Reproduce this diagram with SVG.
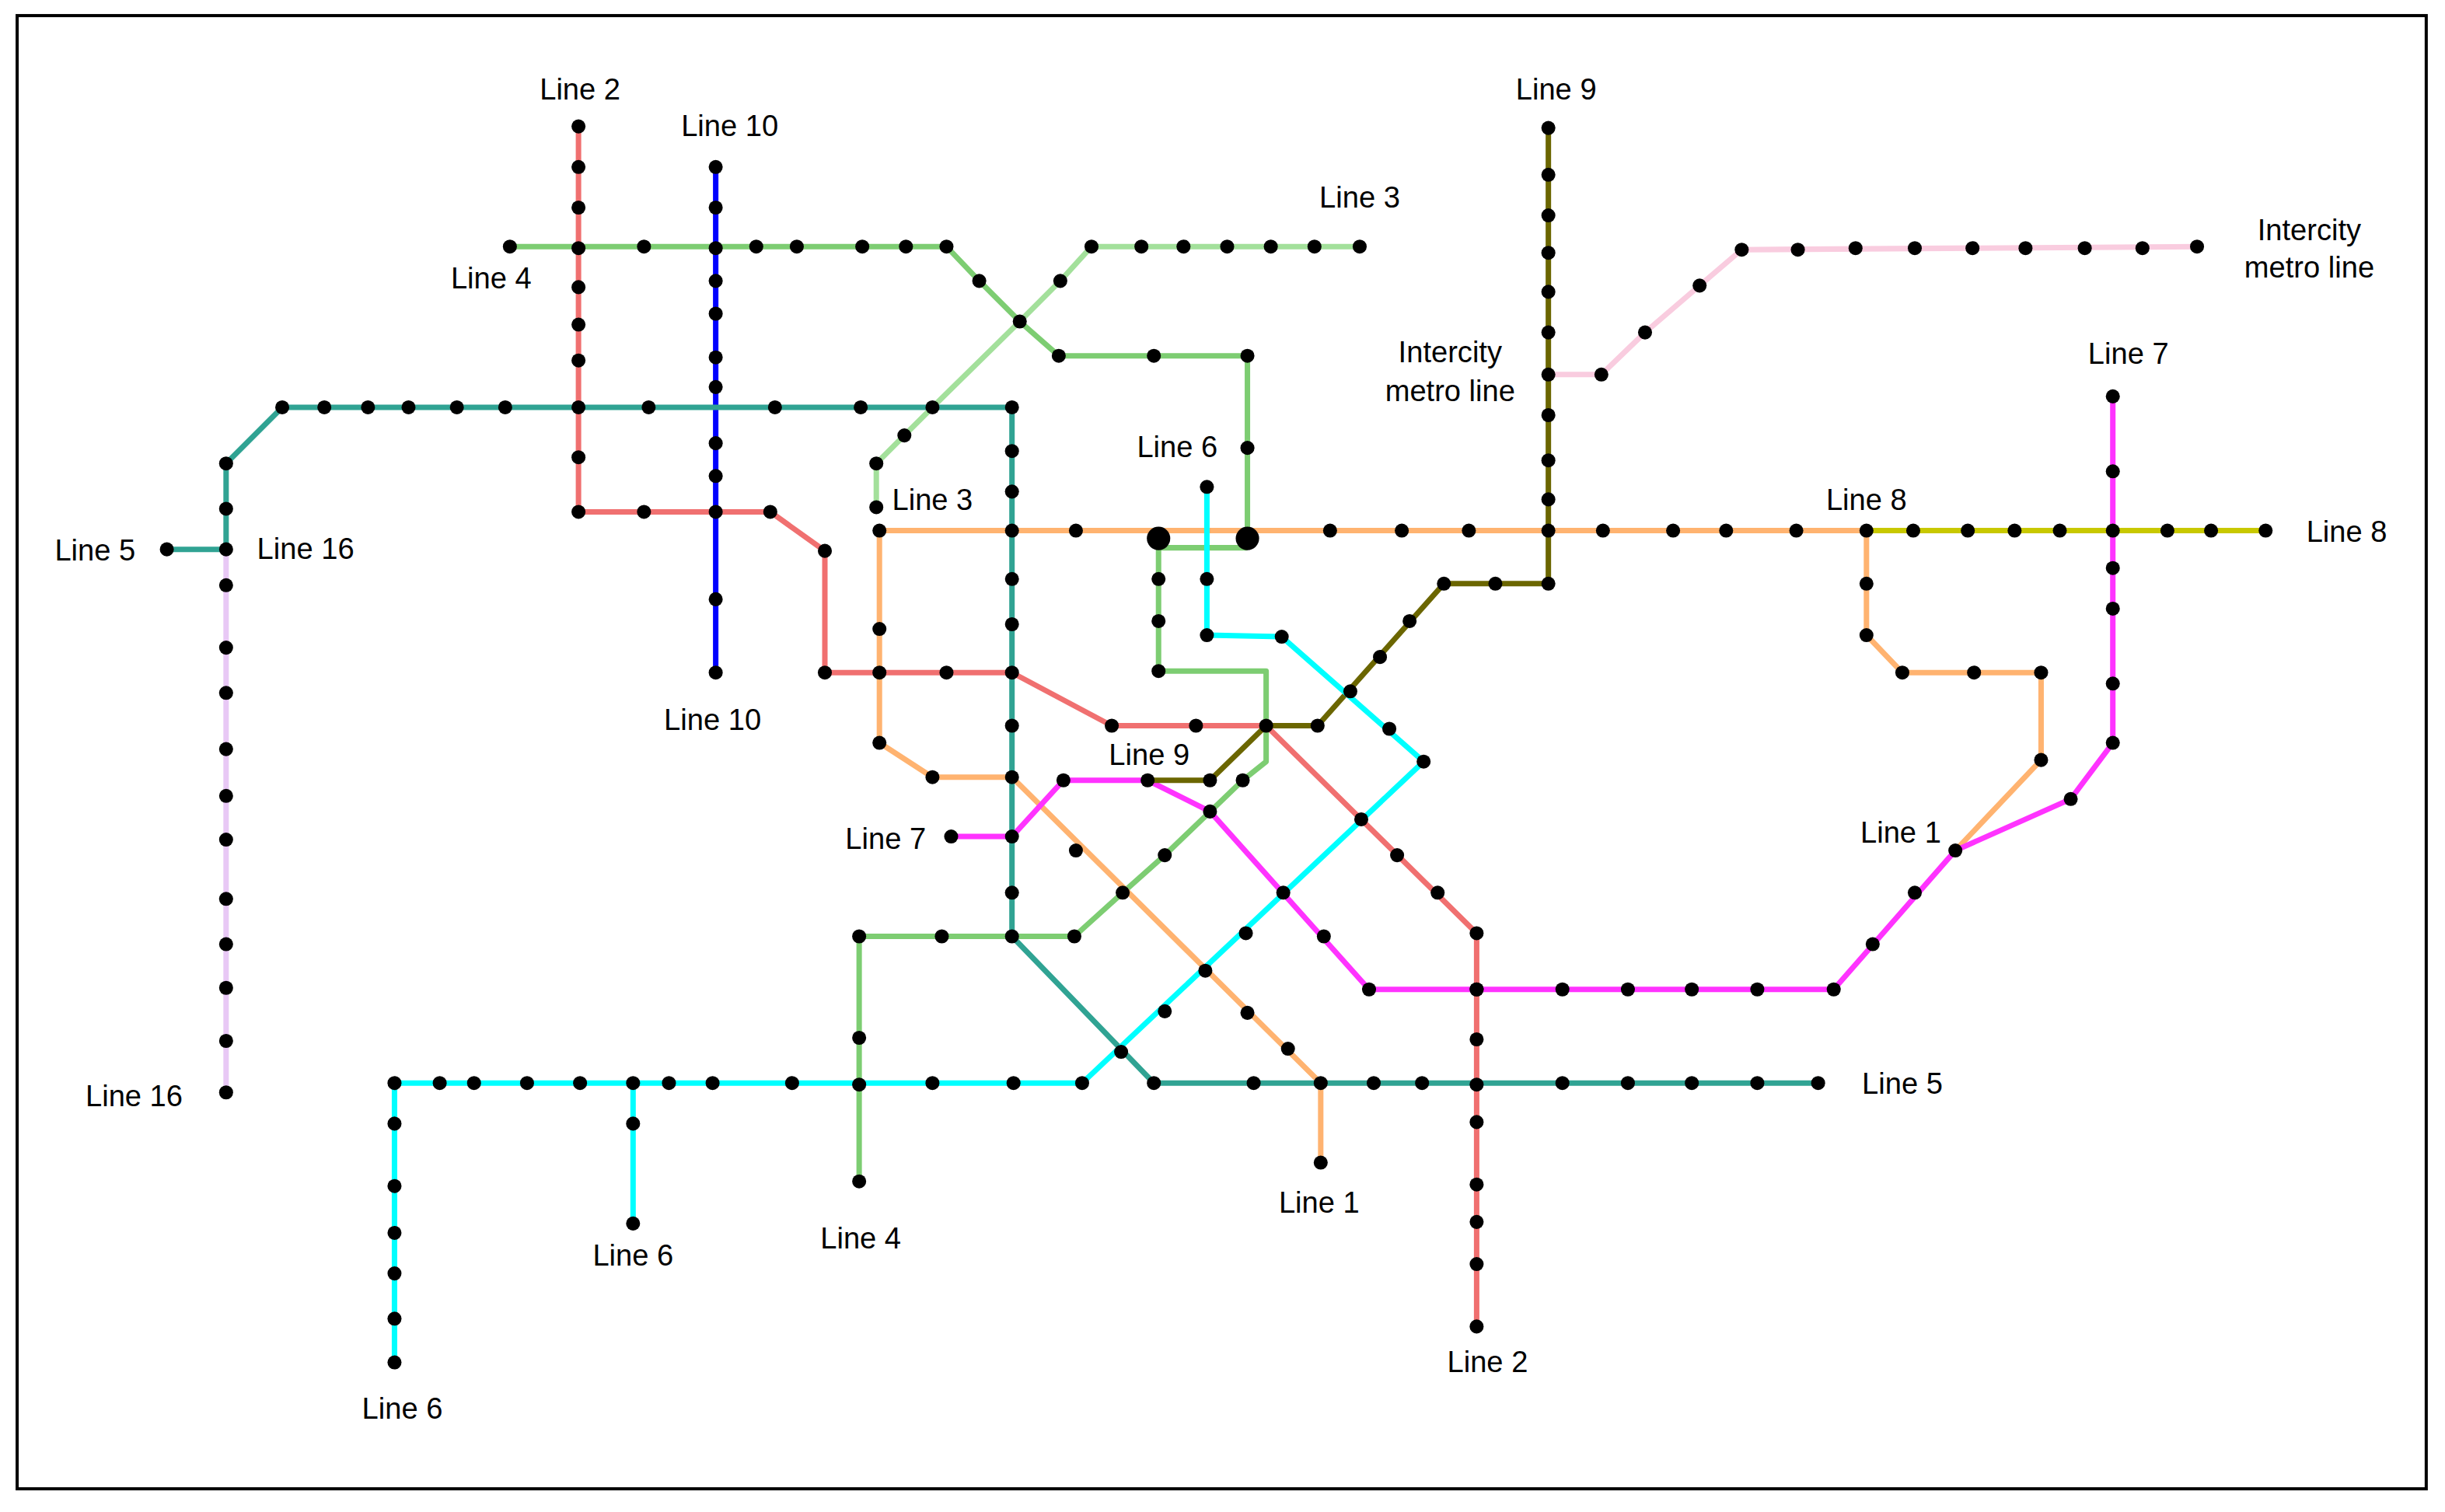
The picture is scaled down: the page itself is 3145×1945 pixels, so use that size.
<svg xmlns="http://www.w3.org/2000/svg" width="3145" height="1945" viewBox="0 0 3145 1945">
<style>
.l{fill:none;stroke-width:3.5;stroke-linejoin:round}
.t{font-family:"Liberation Sans",Arial,sans-serif;font-size:19px;fill:#000;text-anchor:middle}
circle{fill:#000}
</style>
<rect width="3145" height="1945" fill="#fff"/>
<g transform="scale(2.0057,2.0075)">
<rect x="11" y="10" width="1545" height="944" fill="none" stroke="#000" stroke-width="2"/>
<g id="connectors">
<polyline class="l" stroke="#f9ccdf" points="993,240 1027,240 1055,213 1090,183 1117,160 1409,158"/>
<polyline class="l" stroke="#e8c8f5" points="145,352 145,700"/>
<polyline class="l" stroke="#a3e09b" points="872,158 700,158 680,180 654,206 598,261 580,279 562,297 562,325"/>
<polyline class="l" stroke="#7dcd72" points="327,158 607,158 628,180 654,206 679,228 800,228 800,345"/>
<polyline class="l" stroke="#7dcd72" points="800,351 743,351 743,430 812,430 812,488 797,500 747,548 720,572 689,600 551,600 551,757"/>
<polyline class="l" stroke="#ffb370" points="564,340 1197,340"/>
<polyline class="l" stroke="#ffb370" points="564,340 564,476 598,498 649,498 847,694 847,745"/>
<polyline class="l" stroke="#ffb370" points="1197,340 1197,407 1220,431 1309,431 1309,487 1254,545"/>
<polyline class="l" stroke="#c8c800" points="1197,340 1453,340"/>
<polyline class="l" stroke="#f07070" points="371,81 371,328 494,328 529,353 529,431 649,431 713,465 812,465 947,598 947,850"/>
<polyline class="l" stroke="#0000ff" points="459,107 459,431"/>
<polyline class="l" stroke="#30a393" points="107,352 145,352 145,297 181,261 649,261 649,600 740,694 1166,694"/>
<polyline class="l" stroke="#ff33ff" points="1355,254 1355,476 1328,512 1254,545 1176,634 878,634 776,520 736,500 682,500 649,536 610,536"/>
<polyline class="l" stroke="#6b6600" points="993,82 993,374 926,374 845,465 812,465 776,500 736,500"/>
<polyline class="l" stroke="#00ffff" points="774,312 774,407 822,408 913,488 694,694 253,694 253,873"/>
<polyline class="l" stroke="#00ffff" points="406,694 406,784"/>
</g>
<g id="stations">
<circle cx="743" cy="345" r="7.5"/><circle cx="800" cy="345" r="7.5"/>
<g id="l2"><circle cx="371" cy="81" r="4.5"/><circle cx="371" cy="107" r="4.5"/><circle cx="371" cy="133" r="4.5"/><circle cx="371" cy="159" r="4.5"/><circle cx="371" cy="184" r="4.5"/><circle cx="371" cy="208" r="4.5"/><circle cx="371" cy="231" r="4.5"/><circle cx="371" cy="261" r="4.5"/><circle cx="371" cy="293" r="4.5"/><circle cx="371" cy="328" r="4.5"/><circle cx="413" cy="328" r="4.5"/><circle cx="459" cy="328" r="4.5"/><circle cx="494" cy="328" r="4.5"/><circle cx="529" cy="353" r="4.5"/><circle cx="529" cy="431" r="4.5"/><circle cx="564" cy="431" r="4.5"/><circle cx="607" cy="431" r="4.5"/><circle cx="649" cy="431" r="4.5"/><circle cx="713" cy="465" r="4.5"/><circle cx="767" cy="465" r="4.5"/><circle cx="812" cy="465" r="4.5"/><circle cx="873" cy="525" r="4.5"/><circle cx="896" cy="548" r="4.5"/><circle cx="922" cy="572" r="4.5"/><circle cx="947" cy="598" r="4.5"/><circle cx="947" cy="634" r="4.5"/><circle cx="947" cy="666" r="4.5"/><circle cx="947" cy="695" r="4.5"/><circle cx="947" cy="719" r="4.5"/><circle cx="947" cy="759" r="4.5"/><circle cx="947" cy="783" r="4.5"/><circle cx="947" cy="810" r="4.5"/><circle cx="947" cy="850" r="4.5"/></g>
<g id="l10"><circle cx="459" cy="107" r="4.5"/><circle cx="459" cy="133" r="4.5"/><circle cx="459" cy="159" r="4.5"/><circle cx="459" cy="180" r="4.5"/><circle cx="459" cy="201" r="4.5"/><circle cx="459" cy="229" r="4.5"/><circle cx="459" cy="248" r="4.5"/><circle cx="459" cy="284" r="4.5"/><circle cx="459" cy="305" r="4.5"/><circle cx="459" cy="384" r="4.5"/><circle cx="459" cy="431" r="4.5"/></g>
<g id="l4"><circle cx="327" cy="158" r="4.5"/><circle cx="413" cy="158" r="4.5"/><circle cx="485" cy="158" r="4.5"/><circle cx="511" cy="158" r="4.5"/><circle cx="553" cy="158" r="4.5"/><circle cx="581" cy="158" r="4.5"/><circle cx="607" cy="158" r="4.5"/><circle cx="628" cy="180" r="4.5"/><circle cx="654" cy="206" r="4.5"/><circle cx="679" cy="228" r="4.5"/><circle cx="740" cy="228" r="4.5"/><circle cx="800" cy="228" r="4.5"/><circle cx="800" cy="287" r="4.5"/><circle cx="743" cy="371" r="4.5"/><circle cx="743" cy="398" r="4.5"/><circle cx="743" cy="430" r="4.5"/><circle cx="797" cy="500" r="4.5"/><circle cx="747" cy="548" r="4.5"/><circle cx="720" cy="572" r="4.5"/><circle cx="689" cy="600" r="4.5"/><circle cx="649" cy="600" r="4.5"/><circle cx="604" cy="600" r="4.5"/><circle cx="551" cy="600" r="4.5"/><circle cx="551" cy="665" r="4.5"/><circle cx="551" cy="695" r="4.5"/><circle cx="551" cy="757" r="4.5"/></g>
<g id="l3"><circle cx="872" cy="158" r="4.5"/><circle cx="843" cy="158" r="4.5"/><circle cx="815" cy="158" r="4.5"/><circle cx="787" cy="158" r="4.5"/><circle cx="759" cy="158" r="4.5"/><circle cx="732" cy="158" r="4.5"/><circle cx="700" cy="158" r="4.5"/><circle cx="680" cy="180" r="4.5"/><circle cx="598" cy="261" r="4.5"/><circle cx="580" cy="279" r="4.5"/><circle cx="562" cy="297" r="4.5"/><circle cx="562" cy="325" r="4.5"/></g>
<g id="l16"><circle cx="181" cy="261" r="4.5"/><circle cx="208" cy="261" r="4.5"/><circle cx="236" cy="261" r="4.5"/><circle cx="262" cy="261" r="4.5"/><circle cx="293" cy="261" r="4.5"/><circle cx="324" cy="261" r="4.5"/><circle cx="416" cy="261" r="4.5"/><circle cx="497" cy="261" r="4.5"/><circle cx="552" cy="261" r="4.5"/><circle cx="649" cy="261" r="4.5"/><circle cx="145" cy="297" r="4.5"/><circle cx="145" cy="326" r="4.5"/><circle cx="145" cy="352" r="4.5"/><circle cx="107" cy="352" r="4.5"/><circle cx="145" cy="375" r="4.5"/><circle cx="145" cy="415" r="4.5"/><circle cx="145" cy="444" r="4.5"/><circle cx="145" cy="480" r="4.5"/><circle cx="145" cy="510" r="4.5"/><circle cx="145" cy="538" r="4.5"/><circle cx="145" cy="576" r="4.5"/><circle cx="145" cy="605" r="4.5"/><circle cx="145" cy="633" r="4.5"/><circle cx="145" cy="667" r="4.5"/><circle cx="145" cy="700" r="4.5"/></g>
<g id="l5"><circle cx="649" cy="289" r="4.5"/><circle cx="649" cy="315" r="4.5"/><circle cx="649" cy="340" r="4.5"/><circle cx="649" cy="371" r="4.5"/><circle cx="649" cy="400" r="4.5"/><circle cx="649" cy="465" r="4.5"/><circle cx="649" cy="498" r="4.5"/><circle cx="649" cy="536" r="4.5"/><circle cx="649" cy="572" r="4.5"/><circle cx="719" cy="674" r="4.5"/><circle cx="740" cy="694" r="4.5"/><circle cx="804" cy="694" r="4.5"/><circle cx="847" cy="694" r="4.5"/><circle cx="881" cy="694" r="4.5"/><circle cx="912" cy="694" r="4.5"/><circle cx="1002" cy="694" r="4.5"/><circle cx="1044" cy="694" r="4.5"/><circle cx="1085" cy="694" r="4.5"/><circle cx="1127" cy="694" r="4.5"/><circle cx="1166" cy="694" r="4.5"/></g>
<g id="l8"><circle cx="564" cy="340" r="4.5"/><circle cx="690" cy="340" r="4.5"/><circle cx="853" cy="340" r="4.5"/><circle cx="899" cy="340" r="4.5"/><circle cx="942" cy="340" r="4.5"/><circle cx="993" cy="340" r="4.5"/><circle cx="1028" cy="340" r="4.5"/><circle cx="1073" cy="340" r="4.5"/><circle cx="1107" cy="340" r="4.5"/><circle cx="1152" cy="340" r="4.5"/><circle cx="1197" cy="340" r="4.5"/><circle cx="1227" cy="340" r="4.5"/><circle cx="1262" cy="340" r="4.5"/><circle cx="1292" cy="340" r="4.5"/><circle cx="1321" cy="340" r="4.5"/><circle cx="1355" cy="340" r="4.5"/><circle cx="1390" cy="340" r="4.5"/><circle cx="1418" cy="340" r="4.5"/><circle cx="1453" cy="340" r="4.5"/></g>
<g id="l1"><circle cx="564" cy="403" r="4.5"/><circle cx="564" cy="476" r="4.5"/><circle cx="598" cy="498" r="4.5"/><circle cx="690" cy="545" r="4.5"/><circle cx="773" cy="622" r="4.5"/><circle cx="800" cy="649" r="4.5"/><circle cx="826" cy="672" r="4.5"/><circle cx="847" cy="745" r="4.5"/><circle cx="1197" cy="374" r="4.5"/><circle cx="1197" cy="407" r="4.5"/><circle cx="1220" cy="431" r="4.5"/><circle cx="1266" cy="431" r="4.5"/><circle cx="1309" cy="431" r="4.5"/><circle cx="1309" cy="487" r="4.5"/><circle cx="1254" cy="545" r="4.5"/></g>
<g id="l7"><circle cx="1355" cy="254" r="4.5"/><circle cx="1355" cy="302" r="4.5"/><circle cx="1355" cy="364" r="4.5"/><circle cx="1355" cy="390" r="4.5"/><circle cx="1355" cy="438" r="4.5"/><circle cx="1355" cy="476" r="4.5"/><circle cx="1328" cy="512" r="4.5"/><circle cx="1228" cy="572" r="4.5"/><circle cx="1201" cy="605" r="4.5"/><circle cx="1176" cy="634" r="4.5"/><circle cx="1127" cy="634" r="4.5"/><circle cx="1085" cy="634" r="4.5"/><circle cx="1044" cy="634" r="4.5"/><circle cx="1002" cy="634" r="4.5"/><circle cx="947" cy="634" r="4.5"/><circle cx="878" cy="634" r="4.5"/><circle cx="849" cy="600" r="4.5"/><circle cx="823" cy="572" r="4.5"/><circle cx="776" cy="520" r="4.5"/><circle cx="736" cy="500" r="4.5"/><circle cx="682" cy="500" r="4.5"/><circle cx="610" cy="536" r="4.5"/></g>
<g id="l9"><circle cx="993" cy="82" r="4.5"/><circle cx="993" cy="112" r="4.5"/><circle cx="993" cy="138" r="4.5"/><circle cx="993" cy="162" r="4.5"/><circle cx="993" cy="187" r="4.5"/><circle cx="993" cy="213" r="4.5"/><circle cx="993" cy="240" r="4.5"/><circle cx="993" cy="266" r="4.5"/><circle cx="993" cy="295" r="4.5"/><circle cx="993" cy="320" r="4.5"/><circle cx="993" cy="374" r="4.5"/><circle cx="959" cy="374" r="4.5"/><circle cx="926" cy="374" r="4.5"/><circle cx="904" cy="398" r="4.5"/><circle cx="885" cy="421" r="4.5"/><circle cx="866" cy="443" r="4.5"/><circle cx="845" cy="465" r="4.5"/><circle cx="776" cy="500" r="4.5"/></g>
<g id="intercity"><circle cx="1027" cy="240" r="4.5"/><circle cx="1055" cy="213" r="4.5"/><circle cx="1090" cy="183" r="4.5"/><circle cx="1117" cy="160" r="4.5"/><circle cx="1153" cy="160" r="4.5"/><circle cx="1190" cy="159" r="4.5"/><circle cx="1228" cy="159" r="4.5"/><circle cx="1265" cy="159" r="4.5"/><circle cx="1299" cy="159" r="4.5"/><circle cx="1337" cy="159" r="4.5"/><circle cx="1374" cy="159" r="4.5"/><circle cx="1409" cy="158" r="4.5"/></g>
<g id="l6"><circle cx="774" cy="312" r="4.5"/><circle cx="774" cy="371" r="4.5"/><circle cx="774" cy="407" r="4.5"/><circle cx="822" cy="408" r="4.5"/><circle cx="891" cy="467" r="4.5"/><circle cx="913" cy="488" r="4.5"/><circle cx="799" cy="598" r="4.5"/><circle cx="747" cy="648" r="4.5"/><circle cx="694" cy="694" r="4.5"/><circle cx="650" cy="694" r="4.5"/><circle cx="598" cy="694" r="4.5"/><circle cx="508" cy="694" r="4.5"/><circle cx="457" cy="694" r="4.5"/><circle cx="429" cy="694" r="4.5"/><circle cx="406" cy="694" r="4.5"/><circle cx="372" cy="694" r="4.5"/><circle cx="338" cy="694" r="4.5"/><circle cx="304" cy="694" r="4.5"/><circle cx="282" cy="694" r="4.5"/><circle cx="253" cy="694" r="4.5"/><circle cx="406" cy="720" r="4.5"/><circle cx="406" cy="784" r="4.5"/><circle cx="253" cy="720" r="4.5"/><circle cx="253" cy="760" r="4.5"/><circle cx="253" cy="790" r="4.5"/><circle cx="253" cy="816" r="4.5"/><circle cx="253" cy="845" r="4.5"/><circle cx="253" cy="873" r="4.5"/></g>
</g>
<g id="labels">
<text class="t" x="372" y="64">Line 2</text>
<text class="t" x="468" y="87">Line 10</text>
<text class="t" x="315" y="185">Line 4</text>
<text class="t" x="872" y="133">Line 3</text>
<text class="t" x="998" y="64">Line 9</text>
<text class="t" x="1481" y="154">Intercity</text>
<text class="t" x="1481" y="178">metro line</text>
<text class="t" x="930" y="232">Intercity</text>
<text class="t" x="930" y="257">metro line</text>
<text class="t" x="1365" y="233">Line 7</text>
<text class="t" x="755" y="293">Line 6</text>
<text class="t" x="598" y="327">Line 3</text>
<text class="t" x="1197" y="327">Line 8</text>
<text class="t" x="1505" y="347">Line 8</text>
<text class="t" x="61" y="359">Line 5</text>
<text class="t" x="196" y="358">Line 16</text>
<text class="t" x="457" y="468">Line 10</text>
<text class="t" x="737" y="490">Line 9</text>
<text class="t" x="568" y="544">Line 7</text>
<text class="t" x="1219" y="540">Line 1</text>
<text class="t" x="1220" y="701">Line 5</text>
<text class="t" x="86" y="709">Line 16</text>
<text class="t" x="846" y="777">Line 1</text>
<text class="t" x="406" y="811">Line 6</text>
<text class="t" x="552" y="800">Line 4</text>
<text class="t" x="954" y="879">Line 2</text>
<text class="t" x="258" y="909">Line 6</text>
</g>
</g>
</svg>
